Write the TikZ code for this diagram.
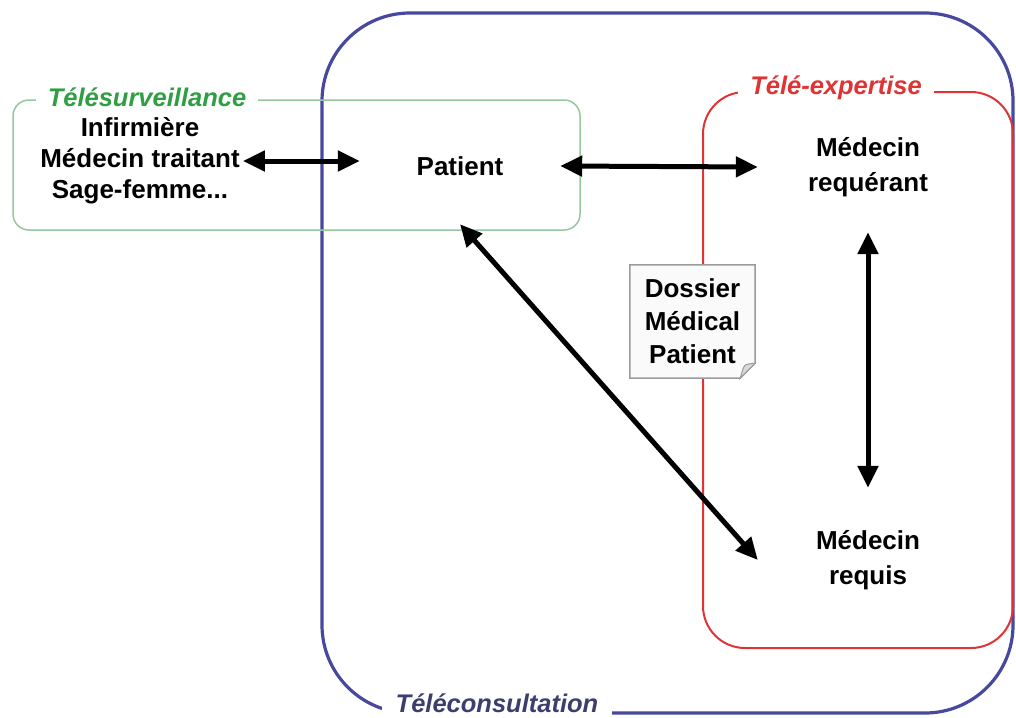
\documentclass[tikz,border=0pt]{standalone}
\usepackage{fontspec}
\setmainfont{Liberation Sans}
\usetikzlibrary{arrows.meta}
\definecolor{consultblue}{RGB}{72,72,158}
\definecolor{consulttext}{RGB}{62,62,110}
\definecolor{expertred}{RGB}{222,52,54}
\definecolor{survgreen}{RGB}{48,158,66}
\definecolor{survline}{RGB}{150,200,160}
\definecolor{notefill}{RGB}{250,250,250}
\definecolor{noteline}{RGB}{155,155,155}
\begin{document}
\begin{tikzpicture}[x=1pt,y=-1pt,
  every node/.style={inner sep=3pt},
  actor/.style={font=\bfseries\fontsize{26}{33}\selectfont, align=center},
  zonelabel/.style={fill=white, font=\bfseries\itshape\fontsize{25.5}{30}\selectfont,
    inner xsep=12pt, inner ysep=0pt},
  link/.style={line width=5pt, {Triangle[length=22pt,width=20pt]}-{Triangle[length=22pt,width=20pt]}},
]
\useasboundingbox (0,0) rectangle (1016,717);

% the three zones
\draw[consultblue, line width=3.2pt, rounded corners=88pt] (322,13) rectangle (1013,713);
\draw[survline, line width=1.5pt, rounded corners=16pt] (13,100) rectangle (580,230);
\draw[expertred, line width=2pt, rounded corners=42pt] (703,92) rectangle (1013,648);

% zone titles, set into the outlines
\node[zonelabel, text=survgreen] (tsurv) at (147,97) {Télésurveillance};
\node[zonelabel, text=expertred] (texp) at (836,88) {Télé-expertise};
\fill[white] (382,692) rectangle (612,717);
\node[zonelabel, text=consulttext] (tcons) at (497,703) {Téléconsultation};

% actors
\node[actor, font=\bfseries\fontsize{26}{31}\selectfont] (soignants) at (140,161)
  {Infirmière\\Médecin traitant\\Sage-femme...};
\node[actor, minimum width=200pt, minimum height=116pt] (patient) at (460,166) {Patient};
\node[actor, font=\bfseries\fontsize{26}{35}\selectfont, minimum width=220pt, minimum height=130pt]
  (requerant) at (868,167) {Médecin\\requérant};
\node[actor, font=\bfseries\fontsize{26}{35}\selectfont, minimum width=220pt, minimum height=144pt]
  (requis) at (868,560) {Médecin\\requis};

% patient file note with folded corner
\node[minimum width=125pt, minimum height=113pt] (dossier) at (692.5,321.5) {};
\filldraw[noteline, fill=notefill, line width=1.5pt] (dossier.north west) -- (dossier.north east)
  -- ([yshift=15pt]dossier.south east) -- ([xshift=-15pt]dossier.south east)
  -- (dossier.south west) -- cycle;
\filldraw[noteline, fill=black!15, line width=1pt] ([yshift=15pt]dossier.south east)
  .. controls ([xshift=-10pt,yshift=14pt]dossier.south east) .. ([xshift=-12pt,yshift=10pt]dossier.south east)
  -- ([xshift=-15pt]dossier.south east) -- cycle;
\node[actor] (dossiertext) at (dossier) {Dossier\\Médical\\Patient};

% exchanges
\draw[link] (soignants.east) -- (soignants.east -| patient.west);
\draw[link] (patient.east) -- (requerant.west);
\draw[link] (requerant.south) -- (requis.north);
\draw[link] (patient.south) -- (requis.west);
\end{tikzpicture}
\end{document}
